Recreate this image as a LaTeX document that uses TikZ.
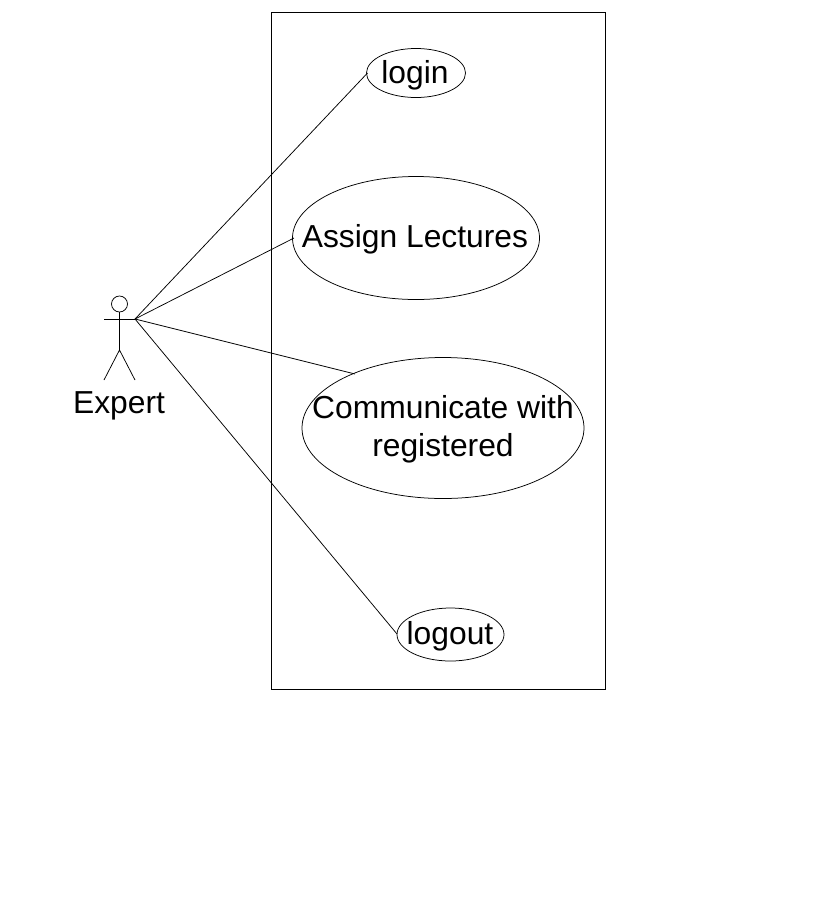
\documentclass[tikz,border=0pt]{standalone}
\usepackage{fontspec}
\setmainfont{Liberation Sans}
\usetikzlibrary{shapes.geometric}
\begin{document}
\begin{tikzpicture}[x=1pt,y=-1pt,line width=0.75pt,
  usecase/.style={draw,ellipse,inner sep=0pt,outer sep=0pt},
  lbl/.style={font=\fontsize{31.8}{38}\selectfont,align=center,inner sep=0pt},
  conn/.style={draw,line width=0.75pt}]
\useasboundingbox (0,0) rectangle (819,906);
\node[draw,minimum width=334pt,minimum height=677pt,inner sep=0pt,outer sep=0pt] (sys) at (438.5,351) {};
\node[usecase,minimum width=99pt,minimum height=49pt] (login) at (416,73) {};
\node[lbl] at (415,75) {login};
\node[usecase,minimum width=247pt,minimum height=123pt] (assign) at (416,238) {};
\node[lbl] at (415,239) {Assign Lectures};
\node[usecase,minimum width=282pt,minimum height=141pt] (comm) at (443,428) {};
\node[lbl] at (443,429) {Communicate with\\registered};
\node[usecase,minimum width=107pt,minimum height=53pt] (logout) at (450.5,634.5) {};
\node[lbl] at (450,636) {logout};
% actor
\node[draw,circle,minimum size=16pt,inner sep=0pt,outer sep=0pt] (head) at (119.5,304) {};
\coordinate (hand) at (135,319);
\coordinate (lhand) at (104,319);
\coordinate (hip) at (119.5,350);
\coordinate (lfoot) at (104,380);
\coordinate (rfoot) at (135,380);
\draw (head.south) -- (hip);
\draw (lhand) -- (hand);
\draw (lfoot) -- (hip) -- (rfoot);
\node[lbl] (expert) at (119,406) {Expert};
\coordinate (c1) at (367.5,73);
\coordinate (c2) at (294,238);
\coordinate (c3) at (355,374);
\coordinate (c4) at (397,634);
\draw[conn] (hand) -- (c1);
\draw[conn] (hand) -- (c2);
\draw[conn] (hand) -- (c3);
\draw[conn] (hand) -- (c4);
\end{tikzpicture}
\end{document}
